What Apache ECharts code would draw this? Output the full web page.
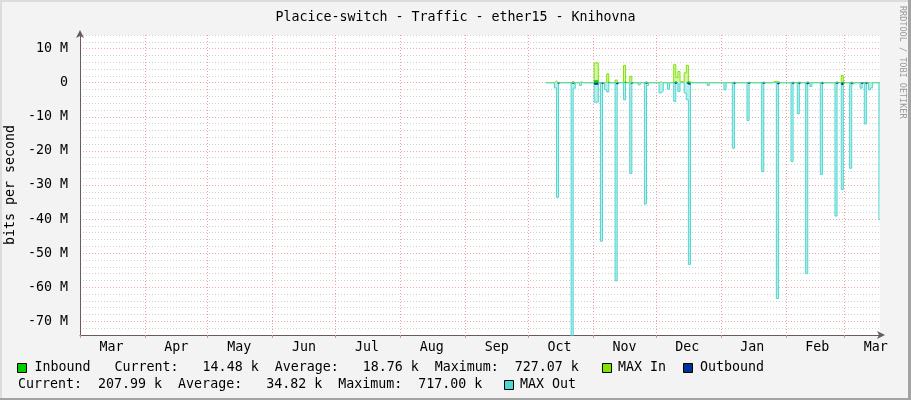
<!DOCTYPE html>
<html><head><meta charset="utf-8">
<script src="https://cdn.jsdelivr.net/npm/echarts@6/dist/echarts.min.js"></script>
<style>html,body{margin:0;padding:0;background:#f3f3f3}#c{width:911px;height:400px}</style>
</head><body><div id="c"></div>
<script>
const chartTitle = 'Placice-switch - Traffic - ether15 - Knihovna';
const axisStart = [2014, 2, 1];   // 2014-03-01
const axisEnd = [2015, 2, 18];    // 2015-03-18
const dataStart = '2014-10-10';
const monthNames = ['Jan','Feb','Mar','Apr','May','Jun','Jul','Aug','Sep','Oct','Nov','Dec'];
const yAxisName = 'bits per second';

// values in Mbit/s
const maxOutDates = ['2014-10-14','2014-10-15','2014-10-22','2014-10-23','2014-10-26','2014-11-02','2014-11-03','2014-11-05','2014-11-07','2014-11-08','2014-11-12','2014-11-16','2014-11-19','2014-11-23','2014-11-26','2014-11-27','2014-12-03','2014-12-04','2014-12-07','2014-12-10','2014-12-12','2014-12-15','2014-12-16','2014-12-17','2014-12-26','2015-01-03','2015-01-07','2015-01-14','2015-01-21','2015-01-28','2015-02-04','2015-02-07','2015-02-11','2015-02-13','2015-02-18','2015-02-25','2015-02-28','2015-03-04','2015-03-05','2015-03-09','2015-03-11','2015-03-13','2015-03-14','2015-03-18'];
const maxOutValues = [-1.5,-33.6,-75,-1.6,-0.8,-5.7,-5.7,-46.5,-2.0,-2.7,-58.1,-5.0,-26.6,-0.6,-35.6,-0.8,-3.0,-2.5,-1.9,-5.5,-2.6,-3.0,-5.0,-53.3,-0.8,-2.1,-19.2,-11.1,-26.1,-63.3,-23.1,-9.1,-56.0,-1.1,-26.9,-39.1,-31.3,-25.1,-0.4,-1.6,-12.1,-2.1,-1.5,-40.1];

const maxInDates = ['2014-10-14','2014-10-22','2014-10-26','2014-11-02','2014-11-03','2014-11-08','2014-11-12','2014-11-16','2014-11-19','2014-11-26','2014-12-03','2014-12-10','2014-12-11','2014-12-12','2014-12-13','2014-12-14','2014-12-15','2014-12-16','2014-12-17','2015-01-07','2015-01-14','2015-01-21','2015-01-26','2015-01-27','2015-01-28','2015-02-04','2015-02-07','2015-02-11','2015-02-18','2015-02-25','2015-02-28','2015-03-04','2015-03-11','2015-03-18'];
const maxInValues = [0.5,0.4,0.3,5.8,5.8,2.6,0.8,5.1,1.9,0.3,0.3,5.3,1.5,3.3,0.3,0.3,2.9,5.1,0.3,0.2,0.2,0.2,0.3,0.4,0.3,0.2,0.2,0.3,0.2,0.3,2.1,0.2,0.2,0.2];

const inboundDates = ['2014-11-02','2014-11-03','2014-11-08','2014-11-16','2014-12-10','2014-12-16','2015-02-28'];
const inboundValues = [0.7,0.7,0.3,0.4,0.5,0.5,0.3];

const outboundDates = ['2014-10-15','2014-10-22','2014-11-02','2014-11-03','2014-11-05','2014-11-12','2014-11-19','2014-11-26','2014-12-10','2014-12-16','2014-12-17','2015-01-07','2015-01-14','2015-01-21','2015-01-28','2015-02-04','2015-02-07','2015-02-11','2015-02-18','2015-02-25','2015-02-28','2015-03-04','2015-03-09','2015-03-11','2015-03-18'];
const outboundValues = [-0.3,-0.4,-0.6,-0.6,-0.4,-0.5,-0.3,-0.4,-0.4,-0.5,-0.6,-0.4,-0.4,-0.4,-0.5,-0.4,-0.4,-0.5,-0.4,-0.4,-0.7,-0.4,-0.4,-0.4,-0.4];

const inboundStats = ['14.48 k', '18.76 k', '727.07 k'];
const outboundStats = ['207.99 k', '34.82 k', '717.00 k'];
const legendNames = ['Inbound', 'MAX In', 'Outbound', 'MAX Out'];
const colors = { inbound: '#00cc00', maxIn: '#80e400', outbound: '#00349a', maxOut: '#50d6d0' };

const days = [];
for (let t = Date.UTC(...axisStart); t <= Date.UTC(...axisEnd); t += 864e5) {
  days.push(new Date(t).toISOString().slice(0, 10));
}
function build(dates, vals) {
  const m = {};
  dates.forEach((d, i) => { m[d] = vals[i]; });
  return days.map(d => d < dataStart ? null : (d in m ? m[d] : 0));
}
function pad(s, n) { while (s.length < n) s = ' ' + s; return s; }

const FONT = 'DejaVu Sans Mono';
const FS = 13.3;
const row1 = legendNames[0] + '   Current:  ' + pad(inboundStats[0], 8) + '  Average:  ' + pad(inboundStats[1], 8) + '  Maximum:  ' + pad(inboundStats[2], 8);
const row2 = 'Current:  ' + pad(outboundStats[0], 8) + '  Average:  ' + pad(outboundStats[1], 8) + '  Maximum:  ' + pad(outboundStats[2], 8);

const chart = echarts.init(document.getElementById('c'));
const isMonthStart = (i, v) => v.slice(8) === '01';
const txt = (x, y, s, extra) => Object.assign({ type: 'text', x: x, y: y, silent: true,
  style: { text: s, font: FS + 'px "' + FONT + '"', fill: '#000', textVerticalAlign: 'middle' } }, extra || {});
const sq = (x, y, c) => ({ type: 'rect', shape: { x: x, y: y, width: 9, height: 9 }, silent: true,
  style: { fill: c, stroke: '#000', lineWidth: 1 } });

chart.setOption({
  animation: false,
  backgroundColor: '#f3f3f3',
  title: { text: chartTitle, left: 'center', top: 6,
    textStyle: { fontFamily: FONT, fontSize: FS, fontWeight: 'normal', color: '#000' } },
  grid: { left: 80, right: 31, top: 35, bottom: 65, show: true, backgroundColor: '#ffffff', borderWidth: 0, outerBoundsMode: 'none' },
  xAxis: {
    type: 'category', data: days, boundaryGap: false,
    axisLine: { show: true, onZero: false, lineStyle: { color: '#6a5a5a', width: 1 }, symbol: ['none', 'arrow'], symbolSize: [6, 8], symbolOffset: [0, 5] },
    axisTick: { show: true, interval: isMonthStart, length: 3, lineStyle: { color: '#e08a8a' } },
    axisLabel: { interval: (i, v) => v.slice(8) === '16', formatter: v => monthNames[+v.slice(5, 7) - 1],
      margin: 6, fontFamily: FONT, fontSize: FS, color: '#000' },
    splitLine: { show: true, interval: isMonthStart, lineStyle: { color: '#f0a0a0', type: [1, 2], width: 1 } }
  },
  yAxis: {
    type: 'value', min: -74, max: 14, interval: 2,
    name: yAxisName, nameLocation: 'middle', nameGap: 63, nameRotate: 90,
    nameTextStyle: { fontFamily: FONT, fontSize: FS, color: '#000' },
    axisLine: { show: true, lineStyle: { color: '#6a5a5a', width: 1 }, symbol: ['none', 'arrow'], symbolSize: [6, 8], symbolOffset: [0, 5] },
    axisTick: { show: false },
    axisLabel: { formatter: v => (Math.abs(v % 10) < 1e-9 ? (v === 0 ? '0' : v + ' M') : ''),
      margin: 12, fontFamily: FONT, fontSize: FS, color: '#000' },
    splitLine: { show: true, lineStyle: { color: ['#cfcfcf', '#cfcfcf', '#eaa8a8', '#cfcfcf', '#cfcfcf'], type: [1, 2], width: 1 } }
  },
  series: [
    { name: legendNames[1], type: 'line', step: 'middle', symbol: 'none', data: build(maxInDates, maxInValues), z: 2,
      lineStyle: { color: colors.maxIn, width: 1 }, areaStyle: { color: '#c2f285', origin: 0 } },
    { name: legendNames[3], type: 'line', step: 'middle', symbol: 'none', data: build(maxOutDates, maxOutValues), z: 3,
      lineStyle: { color: colors.maxOut, width: 1 }, areaStyle: { color: '#98e8e4', origin: 0 } },
    { name: legendNames[0], type: 'line', step: 'middle', symbol: 'none', data: build(inboundDates, inboundValues), z: 4,
      lineStyle: { width: 0 }, areaStyle: { color: colors.inbound, origin: 0, opacity: 1 } },
    { name: legendNames[2], type: 'line', step: 'middle', symbol: 'none', data: build(outboundDates, outboundValues), z: 5,
      lineStyle: { width: 0 }, areaStyle: { color: colors.outbound, origin: 0, opacity: 1 } }
  ],
  graphic: [
    { type: 'rect', shape: { x: 0, y: 0, width: 2, height: 400 }, style: { fill: '#dcdcdc' }, silent: true },
    { type: 'rect', shape: { x: 0, y: 0, width: 911, height: 2 }, style: { fill: '#dcdcdc' }, silent: true },
    { type: 'rect', shape: { x: 908, y: 0, width: 3, height: 400 }, style: { fill: '#a3a3a3' }, silent: true },
    { type: 'rect', shape: { x: 0, y: 398, width: 911, height: 2 }, style: { fill: '#a3a3a3' }, silent: true },
    { type: 'text', x: 902, y: 6, rotation: -Math.PI / 2, silent: true,
      style: { text: 'RRDTOOL / TOBI OETIKER', font: '8.5px "' + FONT + '"', fill: '#999999', textVerticalAlign: 'middle' } },
    sq(17.5, 363.5, colors.inbound),
    txt(34.5, 368, row1),
    sq(602.5, 363.5, colors.maxIn),
    txt(618, 368, legendNames[1]),
    sq(683.5, 363.5, colors.outbound),
    txt(700, 368, legendNames[2]),
    txt(18, 385, row2),
    sq(504.5, 380.5, colors.maxOut),
    txt(520, 385, legendNames[3])
  ]
});
</script></body></html>
